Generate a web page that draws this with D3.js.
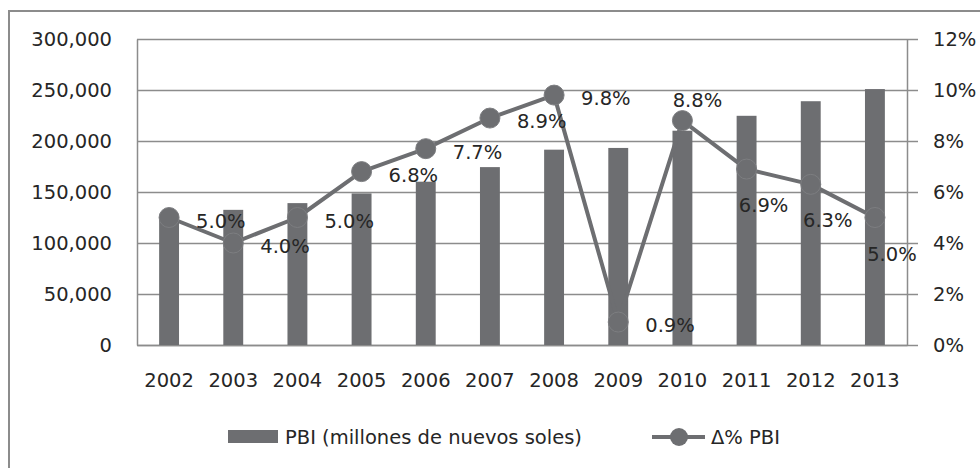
<!DOCTYPE html>
<html>
<head>
<meta charset="utf-8">
<script src="https://cdn.jsdelivr.net/npm/d3@7"></script>
<style>
  body { margin: 0; background: #fff; }
  svg { display: block; font-family: "DejaVu Sans", sans-serif; }
  .axis text { font-family: "DejaVu Sans", sans-serif; font-size: 19.5px; fill: #262626; }
</style>
</head>
<body>
<div id="chart"></div>
<script>
const years = ["2002","2003","2004","2005","2006","2007","2008","2009","2010","2011","2012","2013"];
const pbi = [127400, 132500, 139100, 148600, 160100, 174400, 191500, 193200, 210100, 224700, 239000, 250900];
const growth = [5.0, 4.0, 5.0, 6.8, 7.7, 8.9, 9.8, 0.9, 8.8, 6.9, 6.3, 5.0];
const leftTicks = [0, 50000, 100000, 150000, 200000, 250000, 300000];
const rightTicks = [0, 2, 4, 6, 8, 10, 12];
// where Excel put each data label relative to its marker
const labelPos = ["right","right","right","right","right","right","right","right","above","below","below","below"];

const w = 980, h = 468;
const plotLeft = 137, plotRight = 907, plotTop = 39, plotBottom = 345;
const grey = "#6d6e71";
const gridColor = "#8c8c8c";

const svg = d3.select("#chart").append("svg")
  .attr("width", w)
  .attr("height", h);

// soft edge like the scanned bars
const defs = svg.append("defs");
defs.append("filter").attr("id", "soft")
  .append("feGaussianBlur").attr("stdDeviation", 0.7);

// outer chart border (only top/left visible in the crop)
svg.append("rect")
  .attr("x", 9).attr("y", 11)
  .attr("width", 1000).attr("height", 500)
  .attr("fill", "none")
  .attr("stroke", gridColor)
  .attr("stroke-width", 2);

const xScale = d3.scaleBand()
  .domain(years)
  .range([plotLeft, plotRight])
  .paddingInner(0.69)
  .paddingOuter(0.345);

const yLeft = d3.scaleLinear().domain([0, 300000]).range([plotBottom, plotTop]);
const yRight = d3.scaleLinear().domain([0, 12]).range([plotBottom, plotTop]);

// gridlines
svg.append("g")
  .attr("transform", "translate(" + plotLeft + ",0)")
  .call(d3.axisLeft(yLeft).tickValues(leftTicks).tickSize(-(plotRight - plotLeft)).tickFormat(""))
  .call(g => g.select(".domain").remove())
  .call(g => g.selectAll("line").attr("stroke", gridColor).attr("stroke-width", 1.5));

// left axis
svg.append("g")
  .attr("class", "axis")
  .attr("transform", "translate(" + plotLeft + ",0)")
  .call(d3.axisLeft(yLeft).tickValues(leftTicks).tickSize(0).tickPadding(25).tickFormat(d3.format(",")))
  .call(g => g.select(".domain").attr("stroke", gridColor).attr("stroke-width", 1.5));

// right axis
svg.append("g")
  .attr("class", "axis")
  .attr("transform", "translate(" + plotRight + ",0)")
  .call(d3.axisRight(yRight).tickValues(rightTicks).tickSize(11).tickSizeOuter(0).tickPadding(15).tickFormat(d => d + "%"))
  .call(g => g.select(".domain").attr("stroke", gridColor).attr("stroke-width", 1.5))
  .call(g => g.selectAll("line").attr("stroke", gridColor).attr("stroke-width", 1.5));

// bottom axis
svg.append("g")
  .attr("class", "axis")
  .attr("transform", "translate(0," + plotBottom + ")")
  .call(d3.axisBottom(xScale).tickSize(0).tickPadding(28))
  .call(g => g.select(".domain").attr("stroke", gridColor).attr("stroke-width", 1.5));

//-------------------bars---------------------------
svg.append("g")
  .selectAll("rect")
  .data(years)
  .enter()
  .append("rect")
  .attr("x", d => xScale(d))
  .attr("y", (d, i) => yLeft(pbi[i]))
  .attr("width", xScale.bandwidth())
  .attr("height", (d, i) => plotBottom - yLeft(pbi[i]))
  .attr("fill", grey)
  .attr("filter", "url(#soft)");

//-------------------line---------------------------
const cx = d => xScale(d) + xScale.bandwidth() / 2;
const line = d3.line()
  .x(d => cx(d))
  .y((d, i) => yRight(growth[i]));

svg.append("path")
  .datum(years)
  .attr("d", line)
  .attr("fill", "none")
  .attr("stroke", grey)
  .attr("stroke-width", 4)
  .attr("stroke-linejoin", "round");

svg.append("g")
  .selectAll("circle")
  .data(years)
  .enter()
  .append("circle")
  .attr("cx", d => cx(d))
  .attr("cy", (d, i) => yRight(growth[i]))
  .attr("r", 10)
  .attr("fill", grey)
  .attr("stroke", "#7d7e81")
  .attr("stroke-width", 1);

// data labels
svg.append("g")
  .selectAll("text")
  .data(years)
  .enter()
  .append("text")
  .attr("x", (d, i) => {
    const p = labelPos[i];
    return cx(d) + (p == "right" ? 27 : p == "above" ? 15 : 17);
  })
  .attr("y", (d, i) => {
    const p = labelPos[i];
    return yRight(growth[i]) + (p == "right" ? 3 : p == "above" ? -21 : 36);
  })
  .attr("dy", "0.36em")
  .attr("text-anchor", (d, i) => labelPos[i] == "right" ? "start" : "middle")
  .attr("font-size", "19.5px")
  .attr("fill", "#262626")
  .text((d, i) => growth[i].toFixed(1) + "%");

//--------------------legend---------------------------
const legend = svg.append("g").attr("font-size", "19.5px").attr("fill", "#262626");
legend.append("rect")
  .attr("x", 228).attr("y", 430)
  .attr("width", 50).attr("height", 13)
  .attr("fill", grey);
legend.append("text")
  .attr("x", 285).attr("y", 437).attr("dy", "0.36em")
  .text("PBI (millones de nuevos soles)");

legend.append("line")
  .attr("x1", 652).attr("x2", 705)
  .attr("y1", 437).attr("y2", 437)
  .attr("stroke", grey).attr("stroke-width", 4);
legend.append("circle")
  .attr("cx", 679).attr("cy", 437).attr("r", 9)
  .attr("fill", grey);
legend.append("text")
  .attr("x", 711).attr("y", 437).attr("dy", "0.36em")
  .text("Δ% PBI");
</script>
</body>
</html>
